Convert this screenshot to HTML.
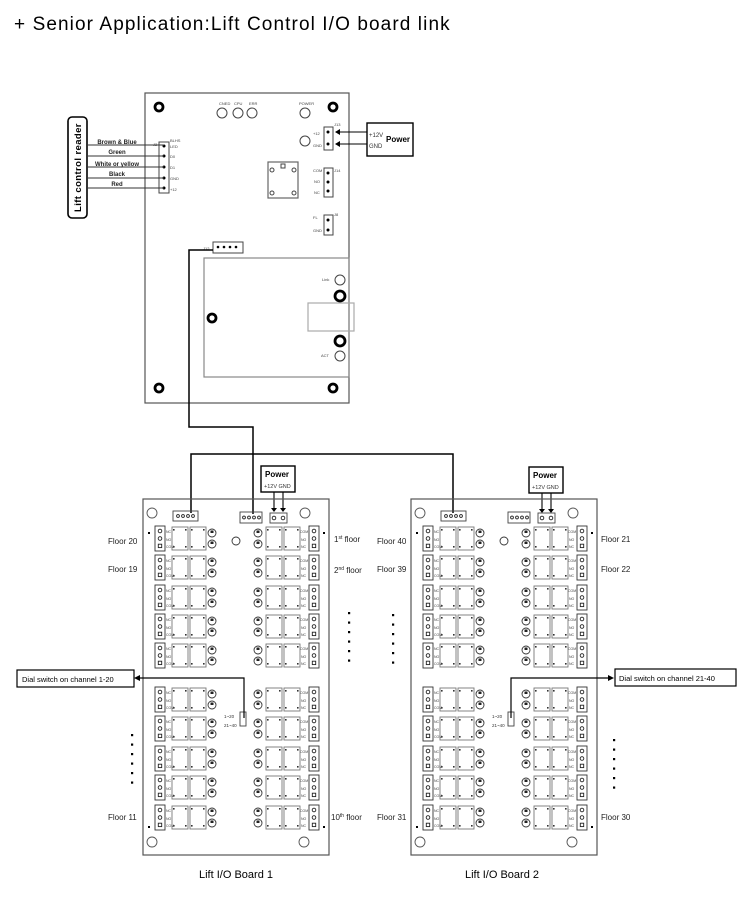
<!DOCTYPE html>
<html><head><meta charset="utf-8"><style>
body{margin:0;background:#fff;}
svg{display:block;font-family:"Liberation Sans",sans-serif;}
</style></head><body>
<svg id="s" width="750" height="916" viewBox="0 0 750 916" xmlns="http://www.w3.org/2000/svg">
<rect width="750" height="916" fill="#fff"/>
<text x="14" y="30" font-size="19" letter-spacing="1.1" fill="#000">+ Senior Application:Lift Control I/O board link</text>

<!-- main board -->
<g fill="none" stroke="#555" stroke-width="1.2">
<rect x="145" y="93" width="204" height="310"/>
<rect x="204" y="258" width="145" height="119" stroke="#888"/>
<rect x="268" y="162" width="30" height="36" stroke="#666"/>
<rect x="308" y="303" width="46" height="28" stroke="#aaa"/>
</g>
<g fill="none" stroke="#000" stroke-width="2.8">
<circle cx="159" cy="107" r="4"/><circle cx="333" cy="107" r="4"/>
<circle cx="159" cy="388" r="4"/><circle cx="333" cy="388" r="4"/>
<circle cx="212" cy="318" r="4"/><circle cx="340" cy="296" r="5"/><circle cx="340" cy="341" r="5"/>
</g>
<g fill="none" stroke="#444" stroke-width="1">
<circle cx="222" cy="113" r="5"/><circle cx="238" cy="113" r="5"/><circle cx="252" cy="113" r="5"/>
<circle cx="305" cy="113" r="5"/><circle cx="305" cy="141" r="5"/>
<circle cx="340" cy="280" r="5"/><circle cx="340" cy="356" r="5"/>
<rect x="159" y="142" width="10" height="51"/>
<rect x="324" y="127" width="9" height="23"/>
<rect x="324" y="168" width="9" height="29"/>
<rect x="324" y="215" width="9" height="20"/>
<rect x="213" y="242" width="30" height="11"/>
<circle cx="272" cy="170" r="2"/><circle cx="294" cy="170" r="2"/><circle cx="272" cy="193" r="2"/><circle cx="294" cy="193" r="2"/><rect x="281" y="164" width="4" height="4"/>
</g>
<g font-size="4" fill="#444">
<text x="219" y="105">CNED</text><text x="234" y="105">CPU</text><text x="249" y="105">ERR</text><text x="299" y="105">POWER</text>
<text x="313" y="135">+12</text><text x="313" y="147">GND</text><text x="334" y="126">J13</text>
<text x="313" y="172">COM</text><text x="314" y="183">NO</text><text x="314" y="194">NC</text><text x="334" y="172">J14</text>
<text x="313" y="219">FL</text><text x="313" y="232">GND</text><text x="334" y="216">J8</text>
<text x="203" y="250">J12</text><text x="322" y="281">Link</text><text x="321" y="357">ACT</text>
<text x="153" y="146">J2</text><text x="170" y="142">BLHS</text>
<text x="170" y="148">LED</text><text x="170" y="158">D0</text><text x="170" y="169">D1</text><text x="170" y="180">GND</text><text x="170" y="191">+12</text>
</g>
<g fill="#000"><circle cx="164" cy="146" r="1.5"/><circle cx="164" cy="156" r="1.5"/><circle cx="164" cy="167" r="1.5"/><circle cx="164" cy="178" r="1.5"/><circle cx="164" cy="188" r="1.5"/>
<circle cx="328" cy="132" r="1.5"/><circle cx="328" cy="144" r="1.5"/><circle cx="328" cy="173" r="1.5"/><circle cx="328" cy="182" r="1.5"/><circle cx="328" cy="191" r="1.5"/><circle cx="328" cy="220" r="1.5"/><circle cx="328" cy="230" r="1.5"/>
<circle cx="218" cy="247" r="1.3"/><circle cx="224" cy="247" r="1.3"/><circle cx="230" cy="247" r="1.3"/><circle cx="236" cy="247" r="1.3"/></g>

<!-- reader -->
<rect x="68" y="117" width="19" height="101" rx="4" fill="none" stroke="#000" stroke-width="1.6"/>
<text transform="translate(81,212) rotate(-90)" font-size="9.5" font-weight="bold" letter-spacing="0.4">Lift control reader</text>
<g stroke="#333" stroke-width="1"><line x1="87" y1="145" x2="164" y2="145"/><line x1="87" y1="156" x2="164" y2="156"/><line x1="87" y1="167" x2="164" y2="167"/><line x1="87" y1="178" x2="164" y2="178"/><line x1="87" y1="188" x2="164" y2="188"/></g>
<g font-size="6" font-weight="bold" text-anchor="middle" fill="#222">
<text x="117" y="144">Brown &amp; Blue</text><text x="117" y="154">Green</text><text x="117" y="166">White or yellow</text><text x="117" y="176">Black</text><text x="117" y="186">Red</text></g>

<!-- main power -->
<rect x="367" y="123" width="46" height="33" fill="none" stroke="#000" stroke-width="1.4"/>
<text x="369" y="137" font-size="6" fill="#333">+12V</text><text x="369" y="148" font-size="6" fill="#333">GND</text>
<text x="386" y="142" font-size="8" font-weight="bold">Power</text>
<g stroke="#000" stroke-width="1"><line x1="367" y1="132" x2="337" y2="132"/><line x1="367" y1="144" x2="337" y2="144"/></g>
<path d="M335 132l5-3v6zM335 144l5-3v6z" fill="#000"/>

<!-- wiring -->
<g fill="none" stroke="#000" stroke-width="1.5">
<path d="M213 250H189V427H253V514"/>
<path d="M191 513V454H453V513"/>
</g>

<!-- board power boxes -->
<g>
<rect x="261" y="466" width="34" height="26" fill="#fff" stroke="#000" stroke-width="1.4"/>
<text x="265" y="477" font-size="8" font-weight="bold">Power</text>
<text x="264" y="488" font-size="5.5" fill="#333">+12V GND</text>
<path d="M274 492V510M283 492V510" stroke="#000" stroke-width="1.1"/>
<path d="M271 508h6l-3 4zM280 508h6l-3 4z" fill="#000"/>
</g>
<g transform="translate(268,1)">
<rect x="261" y="466" width="34" height="26" fill="#fff" stroke="#000" stroke-width="1.4"/>
<text x="265" y="477" font-size="8" font-weight="bold">Power</text>
<text x="264" y="488" font-size="5.5" fill="#333">+12V GND</text>
<path d="M274 492V510M283 492V510" stroke="#000" stroke-width="1.1"/>
<path d="M271 508h6l-3 4zM280 508h6l-3 4z" fill="#000"/>
</g>

<g id="boards"></g>

<!-- dial switch labels -->
<rect x="17" y="670" width="117" height="17" fill="#fff" stroke="#000" stroke-width="1.2"/>
<text x="22" y="682" font-size="7.5">Dial switch on channel 1-20</text>
<path d="M244 718V678H137" fill="none" stroke="#000" stroke-width="1.2"/>
<path d="M134 678l6-3v6z" fill="#000"/>
<rect x="615" y="669" width="121" height="17" fill="#fff" stroke="#000" stroke-width="1.2"/>
<text x="619" y="681" font-size="7.5">Dial switch on channel 21-40</text>
<path d="M511 718V678H610" fill="none" stroke="#000" stroke-width="1.2"/>
<path d="M614 678l-6-3v6z" fill="#000"/>

<!-- floor labels -->
<g font-size="8" fill="#222">
<text x="108" y="544">Floor 20</text><text x="108" y="572">Floor 19</text><text x="108" y="820">Floor 11</text>
<text x="334" y="542">1<tspan font-size="5" dy="-3">st</tspan><tspan dy="3"> floor</tspan></text>
<text x="334" y="573">2<tspan font-size="5" dy="-3">nd</tspan><tspan dy="3"> floor</tspan></text>
<text x="331" y="820">10<tspan font-size="5" dy="-3">th</tspan><tspan dy="3"> floor</tspan></text>
<text x="377" y="544">Floor 40</text><text x="377" y="572">Floor 39</text><text x="377" y="820">Floor 31</text>
<text x="601" y="542">Floor 21</text><text x="601" y="572">Floor 22</text><text x="601" y="820">Floor 30</text>
</g>
<g id="dots" fill="#000"></g>

<text x="236" y="878" font-size="11" text-anchor="middle">Lift I/O Board 1</text>
<text x="502" y="878" font-size="11" text-anchor="middle">Lift I/O Board 2</text>
</svg>
<script>
var B=document.getElementById("boards");
var h="";
function rect(x,y,w,hh,st,sw){h+='<rect x="'+x+'" y="'+y+'" width="'+w+'" height="'+hh+'" fill="none" stroke="'+(st||"#444")+'" stroke-width="'+(sw||0.9)+'"/>';}
function circ(x,y,r,st,f){h+='<circle cx="'+x+'" cy="'+y+'" r="'+r+'" fill="'+(f||"none")+'" stroke="'+(st||"#444")+'" stroke-width="0.9"/>';}
function conn(x,y){rect(x,y,10,25,"#333");circ(x+5,y+5,1.8,"#222");circ(x+5,y+12.5,1.8,"#222");rect(x+3.3,y+18.2,3.4,3.4,"#222");}
function relays(x,y){rect(x,y+1,16,23,"#777");rect(x+18,y+1,16,23,"#777");
 for(var k=0;k<2;k++){var xx=x+k*18;h+='<rect x="'+(xx+1)+'" y="'+(y+3)+'" width="1.6" height="1.6" fill="#333"/><rect x="'+(xx+13)+'" y="'+(y+3)+'" width="1.6" height="1.6" fill="#333"/><rect x="'+(xx+1)+'" y="'+(y+20)+'" width="1.6" height="1.6" fill="#333"/><rect x="'+(xx+13)+'" y="'+(y+20)+'" width="1.6" height="1.6" fill="#333"/>';}}
function leds(x,y){circ(x,y+7,4,"#333");circ(x,y+18,4,"#333");h+='<rect x="'+(x-1.5)+'" y="'+(y+4.5)+'" width="3" height="2.5" fill="#222"/><rect x="'+(x-1.5)+'" y="'+(y+15.5)+'" width="3" height="2.5" fill="#222"/>';}
function board(ox){
 rect(ox+143,499,186,356,"#555",1.2);
 circ(ox+152,513,5,"#555");circ(ox+305,513,5,"#555");circ(ox+152,842,5,"#555");circ(ox+304,842,5,"#555");
 rect(ox+173,511,25,10,"#444");rect(ox+240,512,22,11,"#444");rect(ox+270,513,17,10,"#444");
 for(var i=0;i<4;i++){circ(ox+178+i*5,516,1.4,"#222","#fff");circ(ox+244+i*5,517.5,1.4,"#222","#fff");}
 circ(ox+274,518,1.8,"#222");circ(ox+283,518,1.8,"#222");
 circ(ox+236,541,4,"#333");
 rect(ox+240,712,6,14,"#444");
 h+='<text x="'+(ox+224)+'" y="718" font-size="4.5" fill="#333">1~20</text><text x="'+(ox+224)+'" y="727" font-size="4.5" fill="#333">21~40</text>';
 var ys=[526,555,585,614,643,687,716,746,775,805];
 for(var j=0;j<10;j++){var y=ys[j];
  conn(ox+155,y);relays(ox+172,y);leds(ox+212,y);
  leds(ox+258,y);relays(ox+266,y);conn(ox+309,y);
  h+='<text x="'+(ox+166)+'" y="'+(y+7)+'" font-size="3.5" fill="#444">NC</text><text x="'+(ox+166)+'" y="'+(y+15)+'" font-size="3.5" fill="#444">NO</text><text x="'+(ox+166)+'" y="'+(y+22)+'" font-size="3.5" fill="#444">COM</text>';
  h+='<text x="'+(ox+300)+'" y="'+(y+7)+'" font-size="3.5" fill="#444">COM</text><text x="'+(ox+301)+'" y="'+(y+15)+'" font-size="3.5" fill="#444">NO</text><text x="'+(ox+301)+'" y="'+(y+22)+'" font-size="3.5" fill="#444">NC</text>';
 }
 h+='<rect x="'+(ox+148)+'" y="532" width="2" height="2" fill="#000"/><rect x="'+(ox+323)+'" y="532" width="2" height="2" fill="#000"/><rect x="'+(ox+148)+'" y="826" width="2" height="2" fill="#000"/><rect x="'+(ox+323)+'" y="826" width="2" height="2" fill="#000"/>';
}
board(0);board(268);
B.innerHTML=h;
var d="";
function dots(x,y0,n,s){for(var i=0;i<n;i++)d+='<rect x="'+(x-1)+'" y="'+(y0+i*s-1)+'" width="2.2" height="2.2"/>';}
dots(349,613,6,9.5);dots(132,735,6,9.5);dots(393,615,6,9.5);dots(614,740,6,9.5);
document.getElementById("dots").innerHTML=d;
</script>
</body></html>
